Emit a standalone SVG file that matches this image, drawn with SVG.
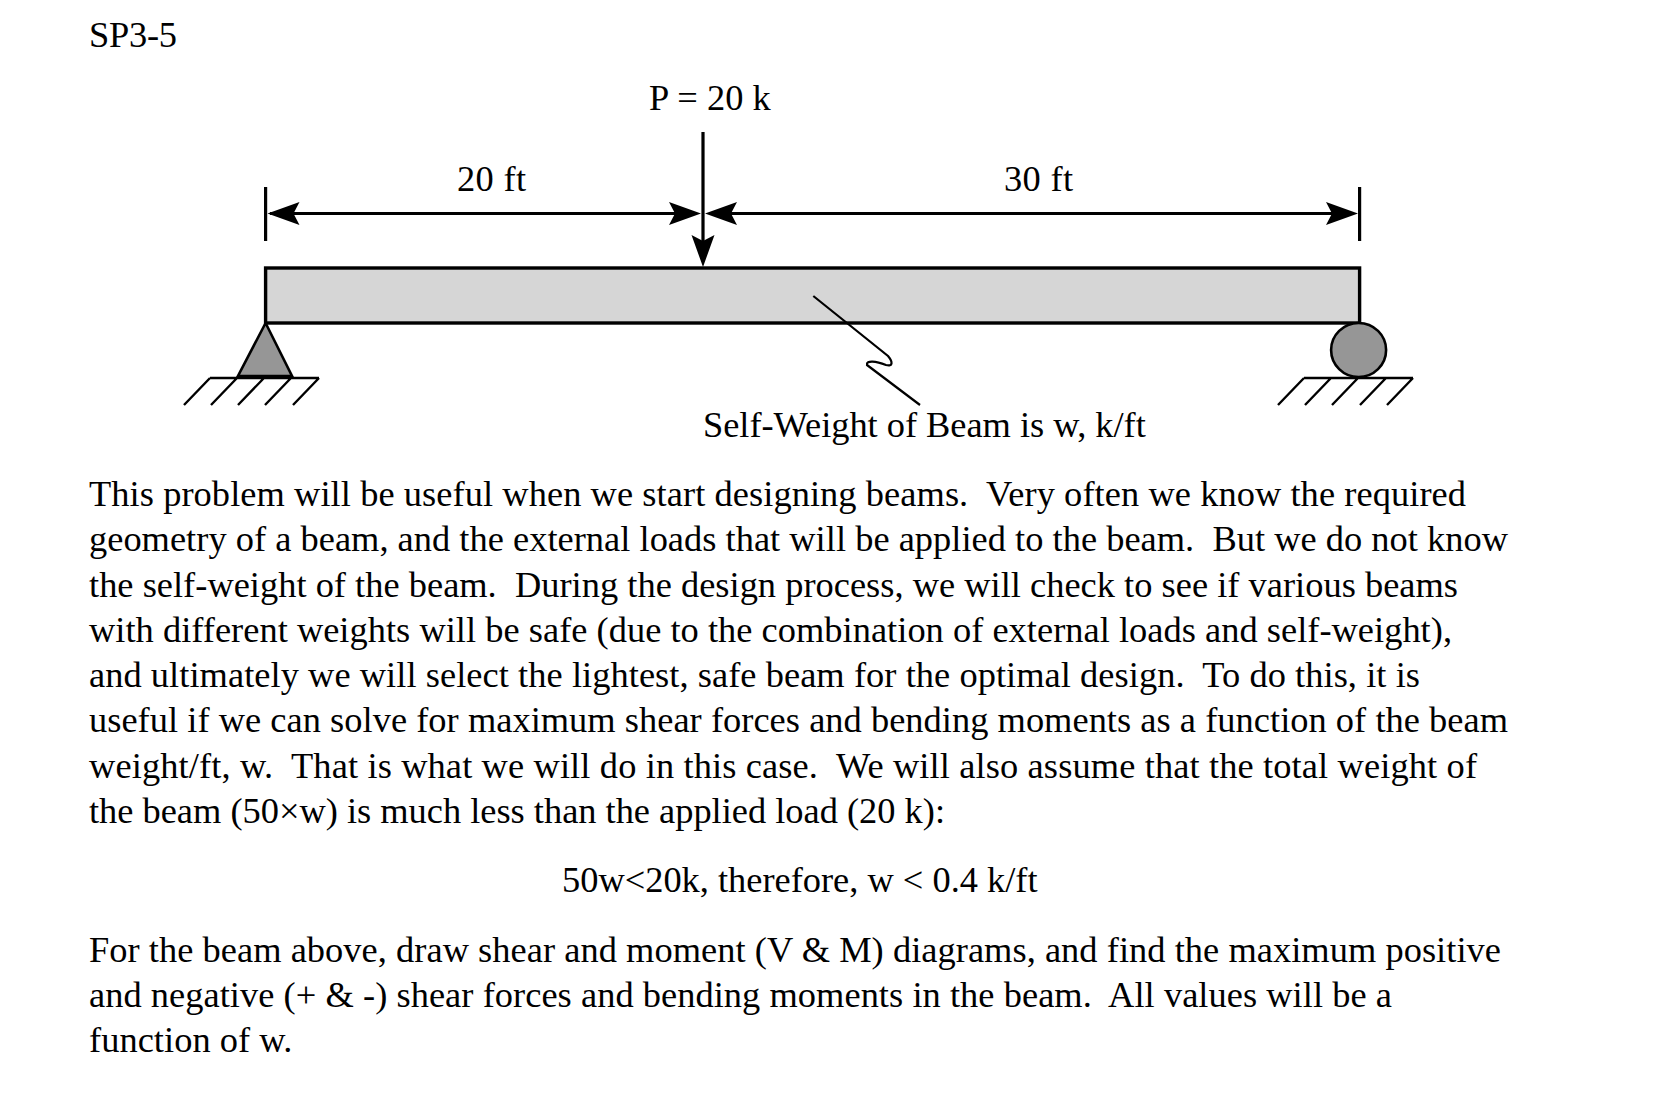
<svg xmlns="http://www.w3.org/2000/svg" width="1661" height="1095" viewBox="0 0 1661 1095">
<style>
text{font-family:"Liberation Serif","Times New Roman",serif;fill:#000;font-size:36.4px;white-space:pre}
.s{fill:none;stroke:#000;stroke-width:3.2}
.t{fill:none;stroke:#000;stroke-width:2.4}
</style>
<defs>
<path id="ah" d="M0 0L-32 -11.5L-26 0L-32 11.5Z" fill="#000"/>
</defs>
<rect width="1661" height="1095" fill="#fff"/>
<text x="89" y="47" textLength="88">SP3-5</text>
<g id="beam"><rect x="265.6" y="268" width="1094" height="55" fill="#d6d6d6" stroke="#000" stroke-width="3.4"/></g>
<g id="pin-support">
<path d="M265.6 323L238 376H292Z" fill="#969696" stroke="#000" stroke-width="2.6"/>
<path class="t" d="M210 378H319M210 378L184 405M237 378L211 405M264 378L238 405M291 378L265 405M319 378L293 405"/>
</g>
<g id="roller-support">
<ellipse cx="1358.6" cy="350" rx="27.5" ry="27" fill="#969696" stroke="#000" stroke-width="2.6"/>
<path class="t" d="M1304 378H1413M1304 378L1278 405M1331 378L1305 405M1358 378L1332 405M1386 378L1360 405M1413 378L1387 405"/>
</g>
<g id="connectors">
<path class="s" d="M265.6 187V241M1359.6 187V241M703 132V250M270 213.5H695M712 213.5H1350"/>
<use href="#ah" transform="translate(267.5 213.5) rotate(180)"/>
<use href="#ah" transform="translate(701 213.5)"/>
<use href="#ah" transform="translate(705 213.5) rotate(180)"/>
<use href="#ah" transform="translate(1358 213.5)"/>
<use href="#ah" transform="translate(703 267) rotate(90)"/>
<path d="M813.3 296L888 356C893 362 893 367 886 365C876 361 866 360 867 365L920 405" fill="none" stroke="#000" stroke-width="2.2"/>
</g>
<text x="649" y="110" textLength="121.8">P = 20 k</text>
<text x="457" y="191" textLength="69">20 ft</text>
<text x="1004" y="191" textLength="69">30 ft</text>
<text x="703" y="437" textLength="442.8">Self-Weight of Beam is w, k/ft</text>
<g class="body">
<text x="89" y="505.5" textLength="1377">This problem will be useful when we start designing beams.  Very often we know the required</text>
<text x="89" y="550.5" textLength="1419">geometry of a beam, and the external loads that will be applied to the beam.  But we do not know</text>
<text x="89" y="597" textLength="1369">the self-weight of the beam.  During the design process, we will check to see if various beams</text>
<text x="89" y="642" textLength="1363">with different weights will be safe (due to the combination of external loads and self-weight),</text>
<text x="89" y="686.5" textLength="1331">and ultimately we will select the lightest, safe beam for the optimal design.  To do this, it is</text>
<text x="89" y="731.5" textLength="1419">useful if we can solve for maximum shear forces and bending moments as a function of the beam</text>
<text x="89" y="778" textLength="1388">weight/ft, w.  That is what we will do in this case.  We will also assume that the total weight of</text>
<text x="89" y="822.5" textLength="856">the beam (50×w) is much less than the applied load (20 k):</text>
<text x="562" y="892" textLength="475.6">50w&lt;20k, therefore, w &lt; 0.4 k/ft</text>
<text x="89" y="962" textLength="1412">For the beam above, draw shear and moment (V &amp; M) diagrams, and find the maximum positive</text>
<text x="89" y="1007" textLength="1303">and negative (+ &amp; -) shear forces and bending moments in the beam.  All values will be a</text>
<text x="89" y="1052" textLength="203.4">function of w.</text>
</g>
</svg>
